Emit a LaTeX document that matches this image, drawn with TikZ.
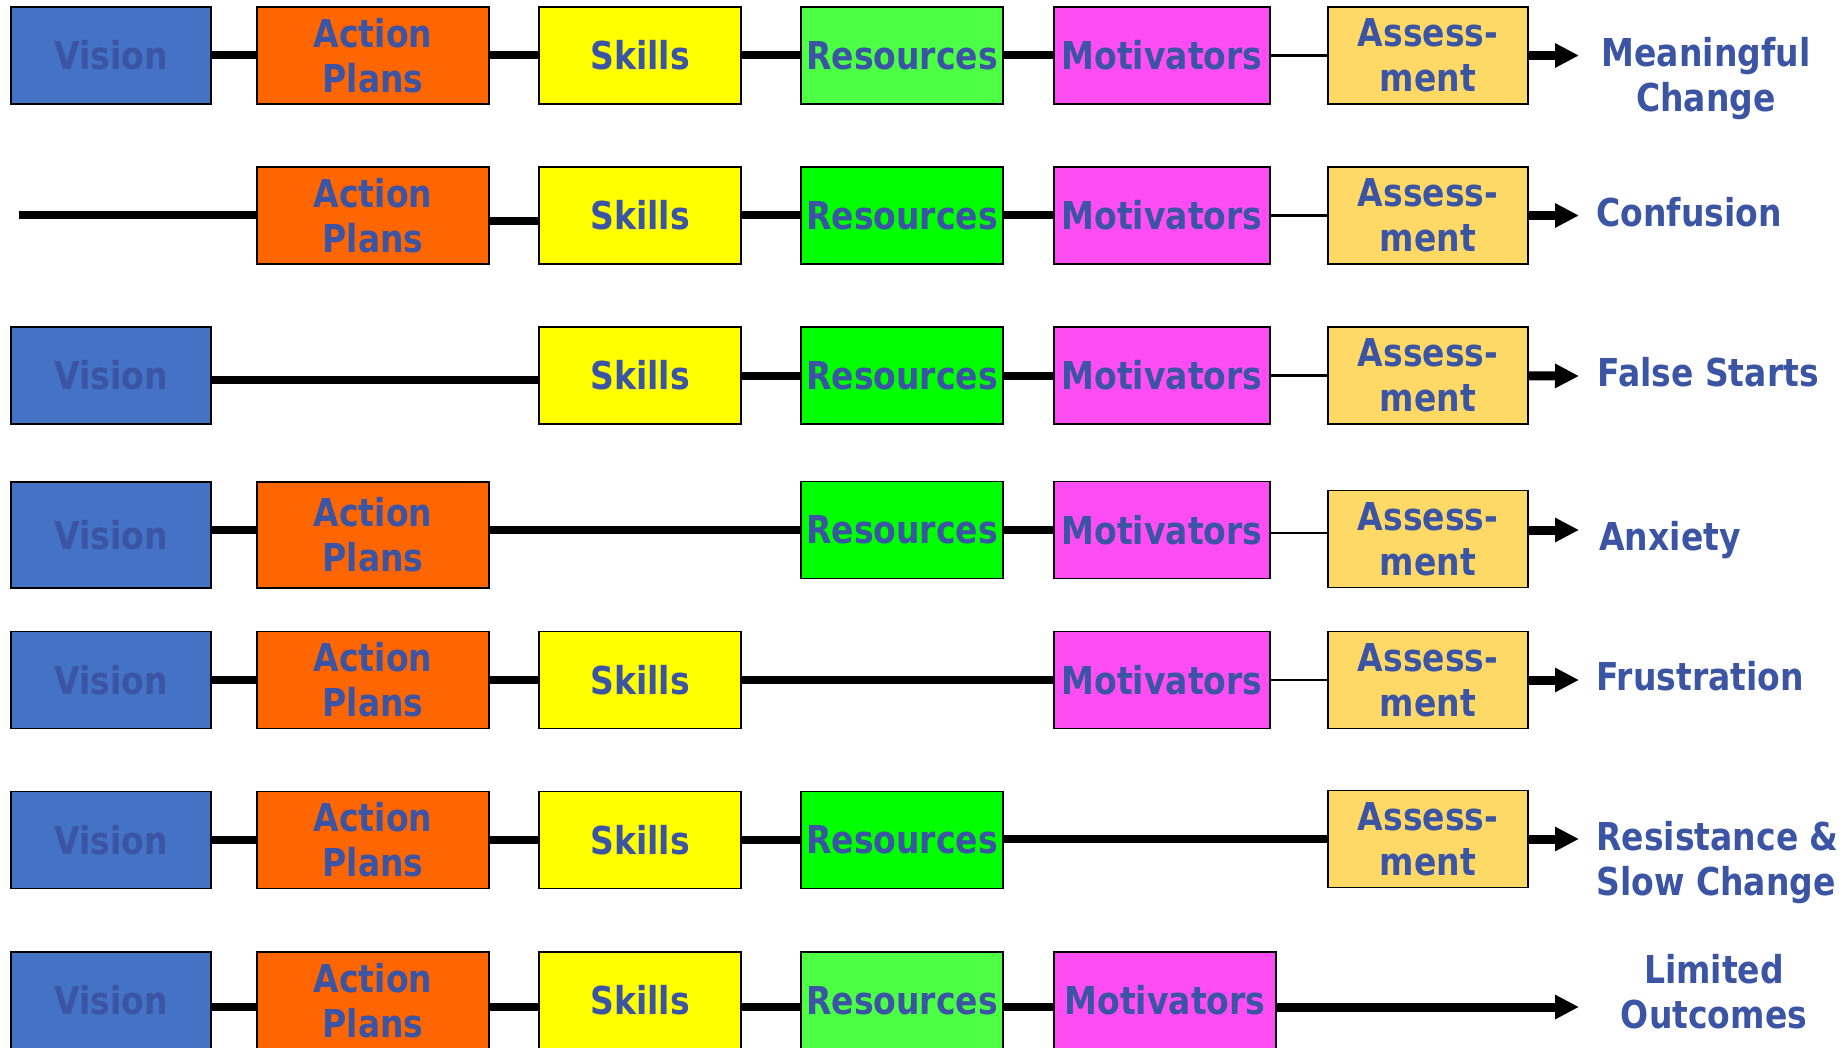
\documentclass[tikz,border=0pt]{standalone}
\usepackage{fontspec}
\usepackage{graphicx}
\usetikzlibrary{arrows.meta}
\newfontfamily\chartfont[FakeStretch=0.86]{DejaVu Sans}

\definecolor{visionblue}{HTML}{4472C4}
\definecolor{actionorange}{HTML}{FF6600}
\definecolor{skillyellow}{HTML}{FFFF00}
\definecolor{resgreen}{HTML}{00FF00}
\definecolor{resgreenlight}{HTML}{4DFF45}
\definecolor{motpink}{HTML}{FF4DF4}
\definecolor{assessgold}{HTML}{FFD966}
\definecolor{labelblue}{HTML}{3B54A4}

\begin{document}
\begin{tikzpicture}[x=0.5pt,y=-0.5pt,
  chartfont/.style={font=\chartfont\bfseries\fontsize{19.2pt}{22.5pt}\selectfont},
  box/.style={chartfont, draw=black, line width=0.9pt, inner sep=0pt,
    minimum height=48.5pt, align=center, text=labelblue},
  tall/.style={minimum height=53pt},
  vision/.style={box, fill=visionblue, minimum width=100pt},
  action/.style={box, fill=actionorange, minimum width=116pt},
  skills/.style={box, fill=skillyellow, minimum width=101pt},
  resources/.style={box, fill=resgreen, minimum width=101pt},
  resourceslight/.style={box, fill=resgreenlight, minimum width=101pt},
  motivators/.style={box, fill=motpink, minimum width=108pt},
  assessment/.style={box, fill=assessgold, minimum width=100pt},
  thickline/.style={line width=4pt},
  thinline/.style={line width=1.2pt},
  outline/.style={line width=4.5pt, -{Triangle[length=12pt,width=11.5pt]}},
  outcome/.style={chartfont, text=labelblue, inner sep=0pt}
]
\useasboundingbox (0,0) rectangle (1847,1048);

% ---------- row 1: everything present ----------
\node[vision]          (v1)  at (111,55.5)  {Vision};
\node[action]          (a1)  at (373,55.5)  {Action\\Plans};
\node[skills]          (s1)  at (640,55.5)  {Skills};
\node[resourceslight]  (r1)  at (902,55.5)  {Resources};
\node[motivators]      (m1)  at (1162,55.5) {Motivators};
\node[assessment]      (as1) at (1428,55.5) {Assess-\\ment};
\coordinate (e1) at (1579,55.5);
\draw[thickline] (v1) -- (a1);
\draw[thickline] (a1) -- (s1);
\draw[thickline] (s1) -- (r1);
\draw[thickline] (r1) -- (m1);
\draw[thinline]  (m1) -- (as1);
\draw[outline]   (as1) -- (e1);
% base anchor of a two-line node sits on the last line
\node[outcome, anchor=base, align=center] (o1) at (1706,112) {Meaningful\\Change};

% ---------- row 2: no vision ----------
\coordinate (b2) at (19,215.5);
\node[action]     (a2)  at (373,215.5)  {Action\\Plans};
\node[skills]     (s2)  at (640,215.5)  {Skills};
\node[resources]  (r2)  at (902,215.5)  {Resources};
\node[motivators] (m2)  at (1162,215.5) {Motivators};
\node[assessment] (as2) at (1428,215.5) {Assess-\\ment};
\coordinate (e2) at (1579,215.5);
\draw[thickline] (b2) -- (a2);
\draw[thickline] ([yshift=-2.75pt]a2.east) -- ([yshift=-2.75pt]s2.west);
\draw[thickline] (s2) -- (r2);
\draw[thickline] (r2) -- (m2);
\draw[thinline]  (m2) -- (as2);
\draw[outline]   (as2) -- (e2);
\node[outcome, anchor=base west] (o2) at (1596,227) {Confusion};

% ---------- row 3: no action plans ----------
\node[vision]     (v3)  at (111,375.5)  {Vision};
\node[skills]     (s3)  at (640,375.5)  {Skills};
\node[resources]  (r3)  at (902,375.5)  {Resources};
\node[motivators] (m3)  at (1162,375.5) {Motivators};
\node[assessment] (as3) at (1428,375.5) {Assess-\\ment};
\coordinate (e3) at (1579,376);
\draw[thickline] ([yshift=-2.25pt]v3.east) -- ([yshift=-2.25pt]s3.west);
\draw[thickline] (s3) -- (r3);
\draw[thickline] (r3) -- (m3);
\draw[thinline]  (m3) -- (as3);
\draw[outline]   (as3) -- (e3);
\node[outcome, anchor=base west] (o3) at (1597,386) {False Starts};

% ---------- row 4: no skills ----------
\node[vision, tall] (v4)  at (111,535)  {Vision};
\node[action, tall] (a4)  at (373,535)  {Action\\Plans};
\node[resources]    (r4)  at (902,530)  {Resources};
\node[motivators]   (m4)  at (1162,530) {Motivators};
\node[assessment]   (as4) at (1428,539) {Assess-\\ment};
\coordinate (e4) at (1579,530);
\draw[thickline] ([yshift=2.5pt]v4.east) -- ([yshift=2.5pt]a4.west);
\draw[thickline] ([yshift=2.5pt]a4.east) -- (r4.west);
\draw[thickline] (r4) -- (m4);
\draw[thinline]  ([yshift=-1.5pt]m4.east) -- ([yshift=3pt]as4.west);
\draw[outline]   ([yshift=4.5pt]as4.east) -- (e4);
\node[outcome, anchor=base west] (o4) at (1599,550) {Anxiety};

% ---------- row 5: no resources ----------
\node[vision]     (v5)  at (111,680)  {Vision};
\node[action]     (a5)  at (373,680)  {Action\\Plans};
\node[skills]     (s5)  at (640,680)  {Skills};
\node[motivators] (m5)  at (1162,680) {Motivators};
\node[assessment] (as5) at (1428,680) {Assess-\\ment};
\coordinate (e5) at (1579,680);
\draw[thickline] (v5) -- (a5);
\draw[thickline] (a5) -- (s5);
\draw[thickline] (s5) -- (m5);
\draw[thinline]  (m5) -- (as5);
\draw[outline]   (as5) -- (e5);
\node[outcome, anchor=base west] (o5) at (1596,690) {Frustration};

% ---------- row 6: no motivators ----------
\node[vision]     (v6)  at (111,840)  {Vision};
\node[action]     (a6)  at (373,840)  {Action\\Plans};
\node[skills]     (s6)  at (640,840)  {Skills};
\node[resources]  (r6)  at (902,840)  {Resources};
\node[assessment] (as6) at (1428,839) {Assess-\\ment};
\coordinate (e6) at (1579,839);
\draw[thickline] (v6) -- (a6);
\draw[thickline] (a6) -- (s6);
\draw[thickline] (s6) -- (r6);
\draw[thickline] ([yshift=0.5pt]r6.east) -- (as6.west);
\draw[outline]   (as6) -- (e6);
\node[outcome, anchor=base west, align=left] (o6) at (1596,895) {Resistance \&\\Slow Change};

% ---------- row 7: no assessment ----------
\node[vision]          (v7) at (111,1000.5)  {Vision};
\node[action]          (a7) at (373,1000.5)  {Action\\Plans};
\node[skills]          (s7) at (640,1000.5)  {Skills};
\node[resourceslight]  (r7) at (902,1000.5)  {Resources};
\node[motivators, minimum width=111pt] (m7) at (1165,1000.5) {Motivators};
\coordinate (e7) at (1579,1007);
\draw[thickline] ([yshift=-3.25pt]v7.east) -- ([yshift=-3.25pt]a7.west);
\draw[thickline] ([yshift=-3.25pt]a7.east) -- ([yshift=-3.25pt]s7.west);
\draw[thickline] ([yshift=-3.25pt]s7.east) -- ([yshift=-3.25pt]r7.west);
\draw[thickline] ([yshift=-3.25pt]r7.east) -- ([yshift=-3.25pt]m7.west);
\draw[outline]   ([yshift=-3.25pt]m7.east) -- (e7);
\node[outcome, anchor=base, align=center] (o7) at (1714,1028) {Limited\\Outcomes};
\end{tikzpicture}
\end{document}
